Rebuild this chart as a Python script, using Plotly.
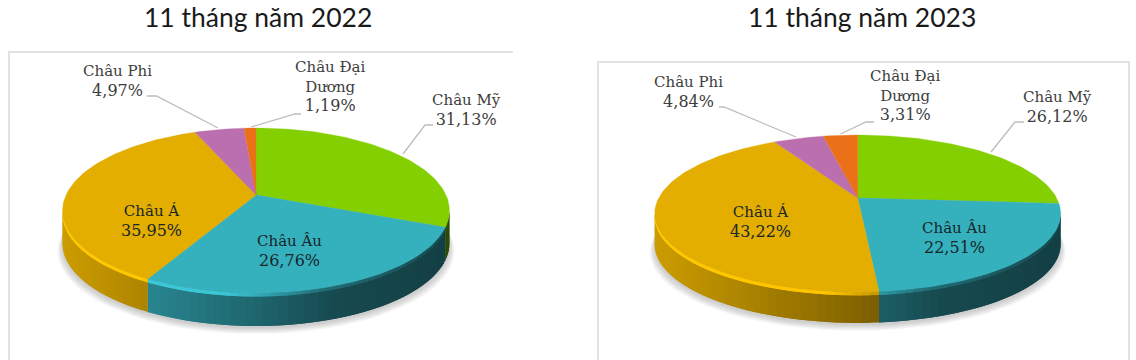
import math
import plotly.graph_objects as go

# ---------- data ----------
regions = ["Châu Mỹ", "Châu Âu", "Châu Á", "Châu Phi", "Châu Đại Dương"]
values_2022 = [31.13, 26.76, 35.95, 4.97, 1.19]
values_2023 = [26.12, 22.51, 43.22, 4.84, 3.31]
titles = ["11 tháng năm 2022", "11 tháng năm 2023"]
label_names = ["Châu Mỹ", "Châu Âu", "Châu Á", "Châu Phi", "Châu Đại<br>Dương"]

# ---------- style / layout ----------
W, H = 1136, 360
colors = [(131, 207, 0), (53, 176, 189), (227, 174, 0), (188, 111, 175), (235, 113, 24)]
TEXT_OUT = "#3d3d3d"
TEXT_IN = "#18262a"
LABEL_FONT = "DejaVu Serif"
LEADER = "#bdbdbd"
FRAME = "#e2e2e2"

panels = [
    dict(values=values_2022, title=titles[0], title_x=257.5, title_y=17,
         ax=256, ay=195, A=190.0, B=79.6, k=0.188, depth=33,
         labels=[(466, 110), (289.5, 251), (151, 221), (117.5, 81), (330, 86)],
         leaders=[[(433, 125), (425, 125), (403, 154)],
                  None, None,
                  [(147, 96), (156.5, 96), (218, 128)],
                  [(301, 114), (295, 114), (251, 127)]],
         frame=[(9, 360), (9, 52), (513, 52)]),
    dict(values=values_2023, title=titles[1], title_x=862, title_y=17,
         ax=857.7, ay=198, A=199.0, B=75.4, k=0.197, depth=31,
         labels=[(1057.5, 107), (954.5, 238), (760, 222), (688, 92), (905, 95)],
         leaders=[[(1024, 122), (1015, 122), (991, 152)],
                  None, None,
                  [(719, 107), (724, 107), (796, 137)],
                  [(874, 122), (866, 122), (840.5, 134)]],
         frame=[(598, 360), (598, 62), (1129, 62), (1129, 360)]),
]


def project(p, phi):
    """Perspective projection of the unit-circle point at clockwise angle phi."""
    u, v = math.sin(phi), math.cos(phi)
    w = 1 + p["k"] * v
    return p["ax"] + p["A"] * u / w, p["ay"] - p["B"] * v / w


def interp(x, pts):
    if x <= pts[0][0]:
        return pts[0][1]
    for (a, fa), (b, fb) in zip(pts, pts[1:]):
        if x <= b:
            return fa + (fb - fa) * (x - a) / (b - a)
    return pts[-1][1]


RIM = [(-1, 0.90), (-0.5, 0.74), (0, 0.58), (0.4, 0.42), (1, 0.36)]
BEVEL = [(-1, 1.16), (-0.15, 1.12), (0.35, 0.62), (1, 0.42)]


def shade(c, f):
    return "rgb(%d,%d,%d)" % tuple(min(255, round(ch * f)) for ch in c)


def poly(fig, xs, ys, fill, line=0.0):
    fig.add_trace(go.Scatter(
        x=xs, y=ys, mode="lines", fill="toself", fillcolor=fill,
        line=dict(color=fill, width=line), hoverinfo="skip", showlegend=False))


fig = go.Figure()
annotations = []

for p in panels:
    # outer frame
    fx, fy = zip(*p["frame"])
    fig.add_trace(go.Scatter(x=fx, y=fy, mode="lines", line=dict(color=FRAME, width=2),
                             hoverinfo="skip", showlegend=False))
    total = sum(p["values"])
    span = p["A"] / math.sqrt(1 - p["k"] ** 2)
    # widest points of the projected circle: rim is visible between them
    vis0 = math.acos(-p["k"])
    vis1 = 2 * math.pi - vis0
    # soft shadow
    for i in range(9):
        grow = 11 - i * 1.3
        xs, ys = [], []
        for d in range(0, 361, 4):
            x, y = project(p, math.radians(d))
            xs.append(p["ax"] + (x - p["ax"]) * (1 + grow / span * 0.45))
            ys.append(y + p["depth"] + 2 + grow * 0.55)
        poly(fig, xs, ys, "rgba(120,120,120,0.045)")
    # slices
    start = 0.0
    bounds = []
    for val in p["values"]:
        end = start + val / total * 2 * math.pi
        bounds.append((start, end))
        start = end
    # rim: painted so every strip overlaps the next one, which hides the seams
    for (a0, a1), col in zip(bounds, colors):
        lo, hi = max(a0, vis0), min(a1, vis1)
        if hi <= lo:
            continue
        n = max(2, int((hi - lo) / math.radians(2)))
        for band, prof, lw in ((p["depth"], RIM, 0.0), (3.5, BEVEL, 0.0)):
            for j in range(n):
                t0 = lo + (hi - lo) * j / n
                t1 = lo + (hi - lo) * min(j + 2, n) / n
                tm = lo + (hi - lo) * (j + 0.5) / n
                xs, ys = [], []
                for q in range(3):
                    x, y = project(p, t0 + (t1 - t0) * q / 2)
                    xs.append(x)
                    ys.append(y)
                xf = (project(p, tm)[0] - p["ax"]) / span
                poly(fig, xs + xs[::-1], ys + [y + band for y in ys[::-1]],
                     shade(col, interp(xf, prof)), lw)
    # top faces
    for (a0, a1), col in zip(bounds, colors):
        n = max(3, int((a1 - a0) / math.radians(1.5)))
        xs, ys = [p["ax"]], [p["ay"]]
        for j in range(n + 1):
            x, y = project(p, a0 + (a1 - a0) * j / n)
            xs.append(x)
            ys.append(y)
        xs.append(p["ax"])
        ys.append(p["ay"])
        poly(fig, xs, ys, shade(col, 1), 0.3)
    # leaders and labels
    for name, val, pos, lead in zip(label_names, p["values"], p["labels"], p["leaders"]):
        if lead:
            lx, ly = zip(*lead)
            fig.add_trace(go.Scatter(x=lx, y=ly, mode="lines", line=dict(color=LEADER, width=1.3),
                                     hoverinfo="skip", showlegend=False))
        pct = f"{val:.2f}%".replace(".", ",")
        annotations.append(dict(
            x=pos[0], y=pos[1], xref="x", yref="y", showarrow=False,
            text=f"{name}<br><span style='font-size:16px'>{pct}</span>",
            font=dict(family=LABEL_FONT, size=15, color=TEXT_OUT if lead else TEXT_IN),
            align="center", xanchor="center", yanchor="middle"))
    annotations.append(dict(
        x=p["title_x"], y=p["title_y"], xref="x", yref="y", showarrow=False,
        text=p["title"], font=dict(family="Lato", size=26.5, color="#1a1a1a"),
        xanchor="center", yanchor="middle"))

fig.update_layout(
    width=W, height=H, margin=dict(l=0, r=0, t=0, b=0),
    paper_bgcolor="white", plot_bgcolor="white", showlegend=False,
    xaxis=dict(range=[0, W], visible=False, fixedrange=True),
    yaxis=dict(range=[H, 0], visible=False, fixedrange=True),
    annotations=annotations,
)
fig.write_html("out.html", config={"displayModeBar": False},
               post_script="document.body.style.margin='0';")
